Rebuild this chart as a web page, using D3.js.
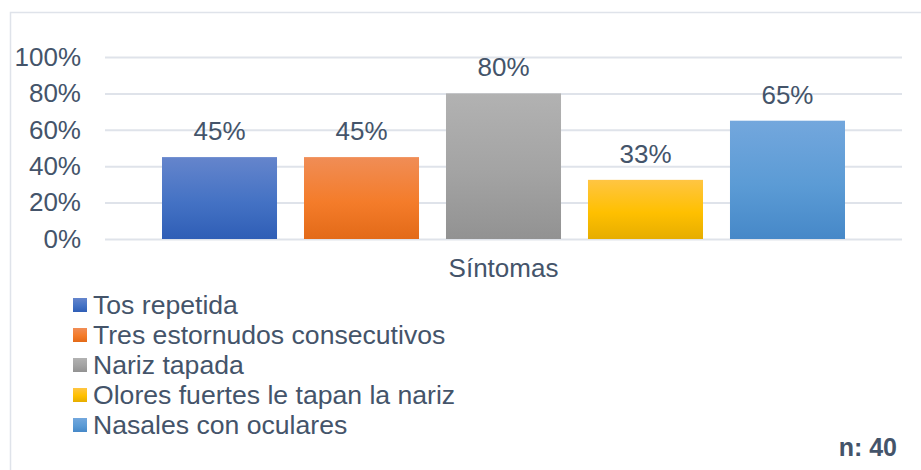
<!DOCTYPE html>
<html>
<head>
<meta charset="utf-8">
<script src="https://cdn.jsdelivr.net/npm/d3@7"></script>
<style>
  body { margin: 0; background: #fff; }
  svg text { font-family: "Liberation Sans", Arial, sans-serif; fill: #44546a; }
</style>
</head>
<body>
<div id="chart"></div>
<script>
// data
var category = 'Síntomas';
var series = ['Tos repetida', 'Tres estornudos consecutivos', 'Nariz tapada', 'Olores fuertes le tapan la nariz', 'Nasales con oculares'];
var values = [45, 45, 80, 32.5, 65];
var labels = ['45%', '45%', '80%', '33%', '65%'];
var yTicks = [0, 20, 40, 60, 80, 100];
var sampleNote = 'n: 40';

// gradient stops per series: top, middle, bottom
var colors = [
  ['#6585cc', '#4472c4', '#2f5eb6'],
  ['#f08d56', '#f47c2a', '#e36a18'],
  ['#b2b2b2', '#a3a3a3', '#929292'],
  ['#ffc543', '#ffc000', '#e6ad00'],
  ['#73a7dd', '#5b9bd5', '#4688c8']
];

var w = 921, h = 470;
var plotLeft = 105, plotRight = 902, plotTop = 57, plotBottom = 239;

var svg = d3.select('#chart').append('svg')
  .attr('width', w)
  .attr('height', h);

var defs = svg.append('defs');
colors.forEach(function(c, i) {
  var g = defs.append('linearGradient')
    .attr('id', 'grad' + i)
    .attr('x1', 0).attr('y1', 0).attr('x2', 0).attr('y2', 1);
  g.append('stop').attr('offset', '0%').attr('stop-color', c[0]);
  g.append('stop').attr('offset', '55%').attr('stop-color', c[1]);
  g.append('stop').attr('offset', '100%').attr('stop-color', c[2]);
});

// chart area border
svg.append('rect')
  .attr('x', 10.5).attr('y', 12.5)
  .attr('width', w).attr('height', h)
  .attr('fill', 'none')
  .attr('stroke', '#dfe3ea')
  .attr('stroke-width', 1.5);

var y = d3.scaleLinear().domain([0, 100]).range([plotBottom, plotTop]);

var x = d3.scaleBand()
  .domain(series)
  .range([162, 845])
  .paddingInner(0.19)
  .paddingOuter(0);

// gridlines + y labels
var yAxis = d3.axisLeft(y)
  .tickValues(yTicks)
  .tickSize(-(plotRight - plotLeft))
  .tickPadding(24)
  .tickFormat(function(d) { return d + '%'; });

var gy = svg.append('g')
  .attr('transform', 'translate(' + plotLeft + ',0)')
  .call(yAxis);
gy.select('.domain').remove();
gy.selectAll('.tick line').attr('stroke', '#dfe3ea').attr('stroke-width', 2);
gy.selectAll('.tick text')
  .attr('font-size', 26)
  .attr('x', -24)
  .attr('fill', '#44546a');

// bars
svg.selectAll('rect.bar')
  .data(values)
  .enter()
  .append('rect')
  .attr('class', 'bar')
  .attr('x', function(d, i) { return x(series[i]); })
  .attr('y', function(d) { return y(d); })
  .attr('width', x.bandwidth())
  .attr('height', function(d) { return y(0) - y(d); })
  .attr('fill', function(d, i) { return 'url(#grad' + i + ')'; });

// value labels
svg.selectAll('text.val')
  .data(values)
  .enter()
  .append('text')
  .attr('class', 'val')
  .attr('x', function(d, i) { return x(series[i]) + x.bandwidth() / 2; })
  .attr('y', function(d) { return y(d) - 17; })
  .attr('text-anchor', 'middle')
  .attr('font-size', 26)
  .text(function(d, i) { return labels[i]; });

// category label
svg.append('text')
  .attr('x', (plotLeft + plotRight) / 2)
  .attr('y', 277)
  .attr('text-anchor', 'middle')
  .attr('font-size', 26)
  .text(category);

// legend
var legend = svg.append('g').attr('transform', 'translate(73,0)');
var rows = legend.selectAll('g')
  .data(series)
  .enter()
  .append('g')
  .attr('transform', function(d, i) { return 'translate(0,' + (314 + i * 30) + ')'; });

rows.append('rect')
  .attr('x', 0).attr('y', -16)
  .attr('width', 14).attr('height', 14)
  .attr('fill', function(d, i) { return 'url(#grad' + i + ')'; });

rows.append('text')
  .attr('x', 20)
  .attr('y', 0)
  .attr('font-size', 26.6)
  .text(function(d) { return d; });

// sample size
svg.append('text')
  .attr('x', 897)
  .attr('y', 456)
  .attr('text-anchor', 'end')
  .attr('font-size', 25)
  .attr('font-weight', 'bold')
  .text(sampleNote);
</script>
</body>
</html>
